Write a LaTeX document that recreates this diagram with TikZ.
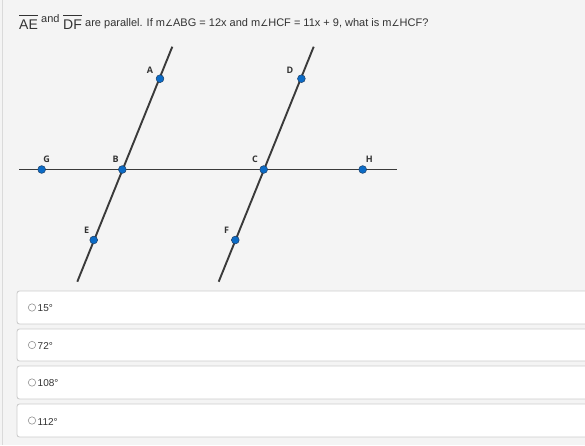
\documentclass[tikz,border=0pt]{standalone}
\usepackage{fontspec}
\usepackage{xcolor}
\usepackage{tikz}
\setmainfont{Liberation Sans}
\newfontfamily\ptfont{Open Sans}
\newfontfamily\symfont{DejaVu Sans}
\definecolor{pagebg}{HTML}{F4F4F4}
\definecolor{edgegray}{HTML}{DADADA}
\definecolor{boxgray}{HTML}{CDCDCD}
\definecolor{linegray}{HTML}{3A3A3A}
\definecolor{dotblue}{HTML}{0B6BC6}
\definecolor{dotedge}{HTML}{1F3F66}
\definecolor{textgray}{HTML}{333333}
\newcommand{\angl}{{\symfont\fontsize{9}{10}\selectfont ∠}}

\begin{document}
\begin{tikzpicture}[x=1pt,y=-1pt,
	ptlabel/.style={font=\ptfont\bfseries\fontsize{9}{10}\selectfont, text=textgray, inner sep=0pt},
	qtext/.style={font=\fontsize{11}{12}\selectfont, text=textgray, inner sep=0pt, anchor=base west},
	optbox/.style={draw=boxgray, line width=0.9pt, fill=white, rounded corners=2.5pt},
	opttext/.style={font=\fontsize{10}{11}\selectfont, text=textgray, inner sep=0pt, anchor=west},
	radio/.style={draw=gray!85, fill=white, line width=0.6pt}]
			\useasboundingbox (0,0) rectangle (585,445);
			\fill[pagebg] (0,0) rectangle (585,445);
			\draw[edgegray, line width=1pt] (2.5,0) -- (2.5,445);
			
			\node[qtext, font=\fontsize{14}{15}\selectfont] (ae) at (19,29.3) {AE};
			\draw[textgray, line width=0.8pt] ([yshift=4pt]ae.north west) -- ([yshift=4pt]ae.north east);
			\node[qtext] (and) at (41,22.3) {and};
			\node[qtext, font=\fontsize{14}{15}\selectfont] (df) at (63,29.3) {DF};
			\draw[textgray, line width=0.8pt] ([yshift=4pt]df.north west) -- ([yshift=4pt]df.north east);
			\node[qtext] (quest) at (85,26.5) {are parallel. If m\angl ABG = 12x and m\angl HCF = 11x + 9, what is m\angl HCF?};
			
			\foreach \n/\px/\py in
			{A/160/78.7, B/122.3/169.5, E/93.7/240, D/301.4/78.7, C/263.7/169.5, F/235.3/240, G/41.7/169.5, H/362.7/169.5}{
				\coordinate (\n) at (\px,\py);
			}
			\coordinate (top1) at (172.3,46.7);
			\coordinate (bot1) at (77.3,281.7);
			\coordinate (top2) at (313.7,46.7);
			\coordinate (bot2) at (218.7,281.7);
			\coordinate (left) at (19,169.5);
			\coordinate (right) at (397.3,169.5);
			
			\foreach \x/\y in
			{left/right, bot1/top1, bot2/top2}{
				\draw[linegray, line width=1.9pt] (\x)--(\y);
			}
			
			\foreach \x in {A,B,C,D,E,F,G,H}{
				\filldraw[fill=dotblue, draw=dotedge, line width=0.5pt] (\x) circle (3.9);
			}
			
			\foreach \x/\px/\py in
			{A/150/70.7, D/290/70.7, G/46.7/159, B/115.7/159, C/255/159, H/369.3/159, E/86.7/230.7, F/226.7/230.7}{
				\node[ptlabel] (l\x) at (\px,\py) {\x};
			}
			
			\foreach \i/\ytop/\ybot/\val in
			{1/291/324/15, 2/329/361/72, 3/366/399/108, 4/404/437/112}{
				\draw[optbox] (17,\ytop) rectangle (600,\ybot);
				\node[radio, circle, minimum size=7.4pt, inner sep=0pt] (r\i) at (32,{(\ytop+\ybot)/2}) {};
				\node[opttext] (o\i) at (37.5,{(\ytop+\ybot)/2+1}) {\val°};
			}
		\end{tikzpicture}
\end{document}
